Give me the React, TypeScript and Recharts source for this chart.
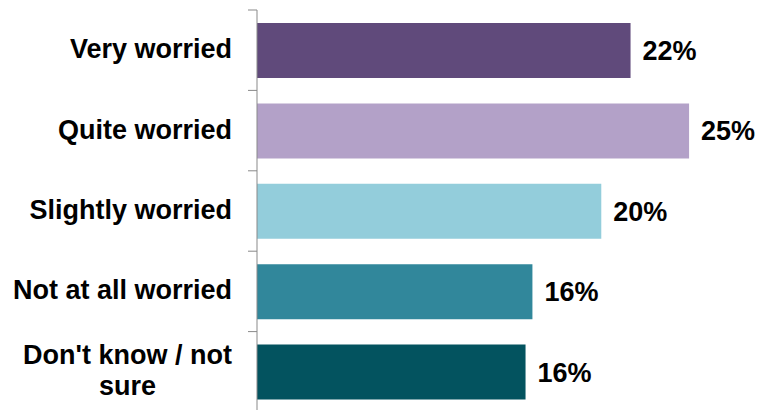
import React from 'react';
import { BarChart, Bar, XAxis, YAxis, Cell, LabelList } from 'recharts';

// Categories and shares (%)
const categories = ['Very worried', 'Quite worried', 'Slightly worried', 'Not at all worried', "Don't know / not sure"];
const shares = [21.7, 25.1, 20.0, 16.0, 15.6];
const barColors = ['#604A7B', '#B3A1C8', '#93CDDB', '#31879B', '#03535F'];

const data = categories.map((name, i) => ({ name, value: shares[i] }));

const FONT = '"Liberation Sans", Arial, sans-serif';
const FONT_SIZE = 27;
const CHART_W = 757;
const CHART_H = 420;
const MARGIN = { top: 10, right: 18, bottom: 8, left: 0 };
const TICK_SIZE = 9;
const TICK_MARGIN = 16;
const LABEL_MAX_WIDTH = 225;
const AXIS_COLOR = '#898989';

let ctx: CanvasRenderingContext2D | null = null;
const measure = (s: string) => {
  if (!ctx) ctx = document.createElement('canvas').getContext('2d');
  if (!ctx) return s.length * FONT_SIZE * 0.55;
  ctx.font = `bold ${FONT_SIZE}px ${FONT}`;
  return ctx.measureText(s).width;
};

// greedy word wrap, like the original chart's label boxes
const wrapLabel = (text: string) => {
  const words = text.split(' ');
  const lines: string[] = [];
  let cur = '';
  words.forEach((w) => {
    const next = cur ? cur + ' ' + w : w;
    if (cur && measure(next) > LABEL_MAX_WIDTH) {
      lines.push(cur);
      cur = w;
    } else {
      cur = next;
    }
  });
  if (cur) lines.push(cur);
  return lines;
};

const CategoryTick = (props: any) => {
  const { x, y, payload, index } = props;
  const band = (CHART_H - MARGIN.top - MARGIN.bottom) / categories.length;
  const lines = wrapLabel(String(payload.value));
  const lineH = FONT_SIZE * 1.15;
  const widths = lines.map(measure);
  const maxW = Math.max(...widths);
  const centerX = x - maxW / 2;
  const firstBaseline = y + 8 - ((lines.length - 1) * lineH) / 2;
  const axisX = x + TICK_MARGIN + TICK_SIZE;
  return (
    <g>
      <line x1={axisX - TICK_SIZE} x2={axisX} y1={y - band / 2} y2={y - band / 2} stroke={AXIS_COLOR} />
      {index === categories.length - 1 && (
        <line x1={axisX - TICK_SIZE} x2={axisX} y1={y + band / 2} y2={y + band / 2} stroke={AXIS_COLOR} />
      )}
      <text
        fill="#000"
        fontFamily={FONT}
        fontSize={FONT_SIZE}
        fontWeight="bold"
        textAnchor={lines.length > 1 ? 'middle' : 'end'}
      >
        {lines.map((l, i) => (
          <tspan key={i} x={lines.length > 1 ? centerX : x} y={firstBaseline + i * lineH}>
            {l}
          </tspan>
        ))}
      </text>
    </g>
  );
};

const App: React.FC = () => {
  return (
    <div style={{ position: 'fixed', left: 0, top: 0, width: CHART_W, height: 410, overflow: 'hidden', background: '#fff' }}>
      <BarChart width={CHART_W} height={CHART_H} data={data} layout="vertical" margin={MARGIN}>
        <XAxis type="number" domain={[0, 28]} hide />
        <YAxis
          type="category"
          dataKey="name"
          width={257}
          axisLine={{ stroke: AXIS_COLOR }}
          tickLine={false}
          tickSize={TICK_SIZE}
          tickMargin={TICK_MARGIN}
          tick={<CategoryTick />}
          interval={0}
        />
        <Bar dataKey="value" barSize={55} isAnimationActive={false}>
          {data.map((_d, i) => (
            <Cell key={`cell-${i}`} fill={barColors[i]} />
          ))}
          <LabelList
            dataKey="value"
            position="right"
            offset={12}
            formatter={(v: any) => `${Math.round(Number(v))}%`}
            style={{ fill: '#000', fontFamily: FONT, fontSize: FONT_SIZE, fontWeight: 'bold' }}
          />
        </Bar>
      </BarChart>
    </div>
  );
};

export default App;
